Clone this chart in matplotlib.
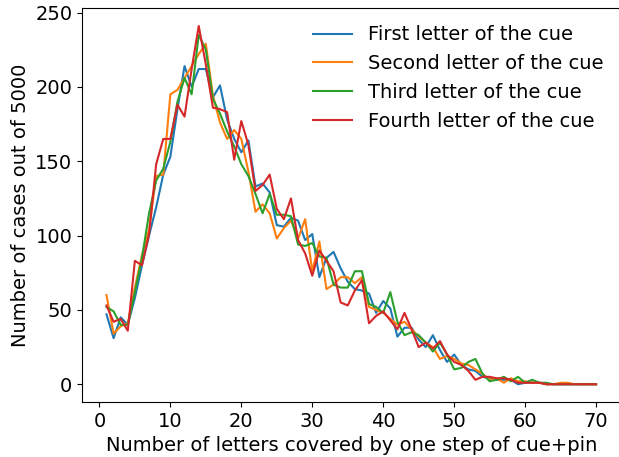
import numpy as np
import matplotlib
matplotlib.use("Agg")
import matplotlib.pyplot as plt

x = list(range(1, 71))

first = [47, 31, 45, 40, 58, 80, 100, 119, 141, 153, 185, 214, 200, 212, 212, 193, 201, 178, 165, 156,
         164, 133, 135, 129, 107, 106, 112, 110, 97, 101, 72, 85, 89, 78, 69, 64, 63, 61, 48, 56,
         51, 32, 38, 38, 30, 25, 33, 23, 15, 20, 13, 10, 9, 5, 4, 3, 3, 3, 0, 1,
         1, 1, 0, 0, 0, 0, 0, 0, 0, 0]
second = [60, 34, 39, 41, 65, 87, 104, 140, 141, 195, 198, 206, 214, 222, 229, 194, 176, 165, 171, 165,
          143, 116, 121, 115, 98, 105, 110, 98, 111, 76, 96, 64, 67, 72, 72, 68, 72, 52, 50, 48,
          44, 40, 42, 37, 32, 28, 25, 17, 19, 17, 14, 13, 10, 7, 3, 4, 1, 4, 2, 2,
          1, 1, 0, 0, 1, 1, 0, 0, 0, 0]
third = [52, 49, 40, 40, 62, 85, 115, 137, 145, 163, 190, 206, 195, 235, 225, 192, 182, 170, 160, 148,
         140, 128, 115, 128, 114, 114, 113, 94, 93, 95, 86, 85, 67, 65, 65, 76, 76, 54, 52, 48,
         62, 42, 33, 35, 33, 28, 22, 28, 20, 10, 11, 15, 17, 7, 2, 3, 5, 2, 5, 1,
         3, 1, 1, 0, 0, 0, 0, 0, 0, 0]
fourth = [53, 42, 44, 36, 83, 80, 101, 148, 165, 165, 188, 180, 212, 241, 215, 186, 185, 183, 151, 177,
          161, 130, 134, 141, 118, 111, 125, 97, 88, 73, 90, 83, 76, 55, 53, 63, 70, 41, 46, 49,
          43, 37, 48, 37, 25, 28, 24, 29, 20, 15, 13, 9, 3, 5, 5, 4, 4, 3, 1, 1,
          1, 1, 0, 0, 0, 0, 0, 0, 0, 0]

labels = ["First letter of the cue", "Second letter of the cue",
          "Third letter of the cue", "Fourth letter of the cue"]

plt.rcParams['font.size'] = 14
fig = plt.figure(figsize=(6.19, 4.57), dpi=100)
ax = fig.add_axes([0.1325, 0.12, 0.870, 0.8625])
for s, lab in zip([first, second, third, fourth], labels):
    ax.plot(x, s, label=lab, linewidth=1.5)
ax.set_xticks(range(0, 71, 10))
ax.set_yticks(range(0, 251, 50))
ax.set_xlabel("Number of letters covered by one step of cue+pin", labelpad=4)
ax.set_ylabel("Number of cases out of 5000")
ax.legend(frameon=False, loc="upper right")
fig.savefig("out.png", dpi=100)
